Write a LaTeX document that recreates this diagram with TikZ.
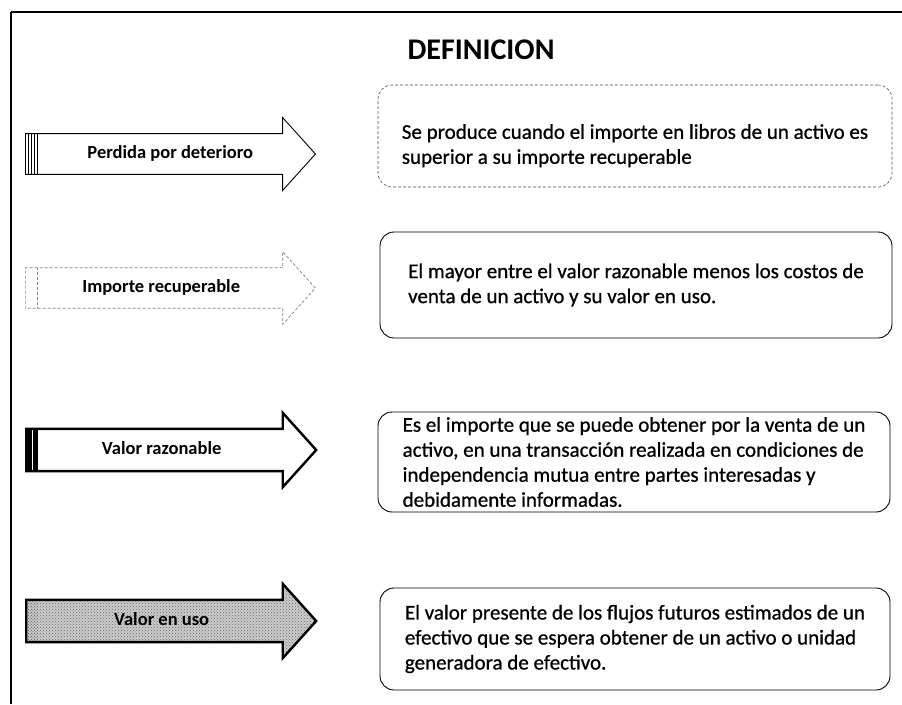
\documentclass[tikz,border=0pt]{standalone}
\usepackage{fontspec}
\setmainfont{Carlito}
\newfontfamily\cuadrofont[FakeBold=0.8]{Carlito}
\usepackage{tikz}
\usetikzlibrary{shapes.arrows,patterns}

\tikzset{
	concepto/.style={single arrow, single arrow head extend=16pt, single arrow tip angle=96,
		minimum height=290pt, text height=13pt, text depth=4.5pt, inner ysep=11.2pt, anchor=tail,
		font=\bfseries\fontsize{18.5}{22}\selectfont},
	definicion/.style={draw, rounded corners=14pt, line width=0.9pt, align=left,
		font=\cuadrofont\fontsize{21}{25}\selectfont}
}

\begin{document}
\begin{tikzpicture}[x=1pt,y=-1pt]
	\useasboundingbox (0,0) rectangle (902,704);
	% marco
	\draw [line width=1.4pt] (11,12)--(902,12);
	\draw [line width=2.6pt] (11,12)--(11,704);
	\node (titulo) at (481,50) {\bfseries\fontsize{30}{34}\selectfont DEFINICION};

	% flechas
	\node [concepto, draw, line width=0.9pt,
		path picture={\foreach \x in {3,6,9}
			\draw [line width=0.5pt] ([xshift=\x pt]path picture bounding box.north west)--([xshift=\x pt]path picture bounding box.south west);
			\draw [line width=0.6pt] ([xshift=12pt]path picture bounding box.north west)--([xshift=12pt]path picture bounding box.south west);}]
		(perdida) at (25,154) {\hspace*{18pt}Perdida por deterioro};
	\node [concepto, draw=gray, densely dashed, line width=0.7pt,
		path picture={\draw [gray, densely dashed] ([xshift=12pt]path picture bounding box.north west)--([xshift=12pt]path picture bounding box.south west);}]
		(importe) at (25,288) {Importe recuperable};
	\node [concepto, draw, line width=2.4pt,
		path picture={\fill ([xshift=0pt]path picture bounding box.north west) rectangle ([xshift=12pt]path picture bounding box.south west);
			\draw [white, line width=0.6pt] ([xshift=6pt]path picture bounding box.north west)--([xshift=6pt]path picture bounding box.south west);}]
		(razonable) at (25,450) {Valor razonable};
	\node [concepto, draw, line width=2.4pt, preaction={fill=gray!40}, pattern=crosshatch dots, pattern color=gray!80!black,
		path picture={\fill ([xshift=0pt]path picture bounding box.north west) rectangle ([xshift=12pt]path picture bounding box.south west);}]
		(uso) at (25,621) {Valor en uso};

	% cuadros
	\node [definicion, draw=black!70, densely dashed, line width=0.6pt, minimum width=514pt, minimum height=102pt]
		(def1) at (635,136) {\rule{0pt}{34pt}Se produce cuando el importe en libros de un activo es\\superior a su importe recuperable};
	\node [definicion, minimum width=512pt, minimum height=106pt]
		(def2) at (636,285) {El mayor entre el valor razonable menos los costos de\\venta de un activo y su valor en uso.};
	\node [definicion, minimum width=512pt, minimum height=100pt]
		(def3) at (634,462) {Es el importe que se puede obtener por la venta de un\\activo, en una transacción realizada en condiciones de\\independencia mutua entre partes interesadas y\\debidamente informadas.};
	\node [definicion, minimum width=510pt, minimum height=102pt]
		(def4) at (635,639) {El valor presente de los flujos futuros estimados de un\\efectivo que se espera obtener de un activo o unidad\\generadora de efectivo.};
\end{tikzpicture}
\end{document}
